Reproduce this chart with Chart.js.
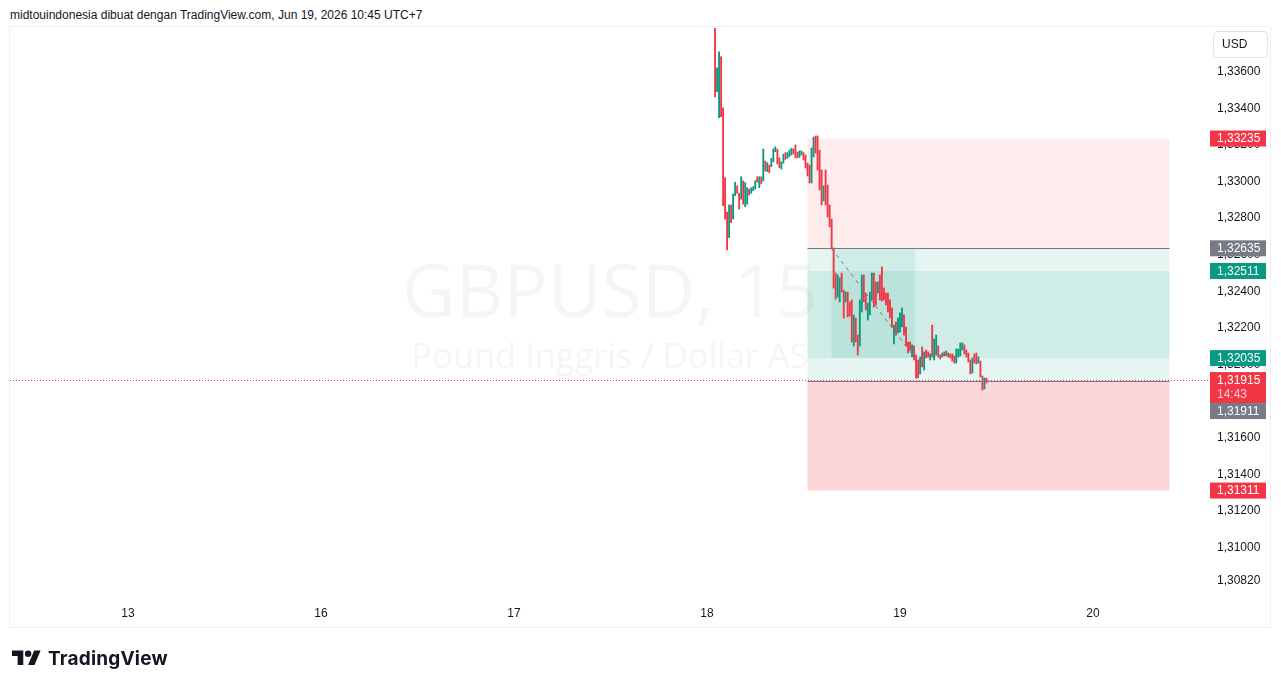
<!DOCTYPE html>
<html>
<head>
<meta charset="utf-8">
<script src="https://cdn.jsdelivr.net/npm/chart.js@4.4.1/dist/chart.umd.min.js"></script>
<style>
    html, body { margin: 0; padding: 0; background: #fff; width: 1281px; height: 688px; overflow: hidden; }
    #head { position: absolute; left: 10px; top: 8px; font: 12px "Liberation Sans", sans-serif; color: #131722; white-space: nowrap; }
    #frame { position: absolute; left: 9px; top: 26px; width: 1262px; height: 602px; border: 1px solid #eef0f3; box-sizing: border-box; }
    canvas { position: absolute; left: 0; top: 0; }
    #logo { position: absolute; left: 12px; top: 646px; display: flex; align-items: center; height: 24px; }
    #logo span { font: 700 19px Inter, sans-serif; color: #131722; margin-left: 7px; letter-spacing: 0.2px; }
</style>
</head>
<body>
<div id="head">midtouindonesia dibuat dengan TradingView.com, Jun 19, 2026 10:45 UTC+7</div>
<div id="frame"></div>
<canvas id="chart" width="1281" height="688"></canvas>
<div id="logo">
    <svg width="29" height="23" viewBox="0 0 36 28"><path d="M14 22H7V11H0V4h14v18zM28 22h-8l7.5-18h8L28 22z" fill="#131722"/><circle cx="20" cy="8" r="4" fill="#131722"/></svg>
    <span>TradingView</span>
</div>
<script>
// x axis: trading days (13, 16, 17, 18, 19, 20), 15 minute bars
const dayLabels = ['13', '16', '17', '18', '19', '20'];
const firstBar = 4; // Jun 18 01:00

const highs = [
    1.33844, 1.33622, 1.33709, 1.33682, 1.33403, 1.33021, 1.32833, 1.32872, 1.32872, 1.32932,
    1.32996, 1.32976, 1.32936, 1.33026, 1.33003, 1.32994, 1.32966, 1.32958, 1.32966, 1.32972,
    1.33005, 1.33026, 1.33026, 1.33026, 1.33178, 1.33112, 1.33103, 1.33090, 1.33127, 1.33178,
    1.33190, 1.33176, 1.33130, 1.33108, 1.33150, 1.33158, 1.33158, 1.33172, 1.33182, 1.33178,
    1.33200, 1.33161, 1.33168, 1.33167, 1.33158, 1.33145, 1.33101, 1.33090, 1.33183, 1.33243,
    1.33249, 1.33249, 1.33172, 1.33063, 1.32976, 1.33063, 1.32981, 1.32872, 1.32795, 1.32637,
    1.32500, 1.32489, 1.32473, 1.32500, 1.32407, 1.32396, 1.32396, 1.32342, 1.32353, 1.32271,
    1.32254, 1.32161, 1.32353, 1.32489, 1.32489, 1.32391, 1.32336, 1.32396, 1.32500, 1.32500,
    1.32451, 1.32451, 1.32489, 1.32533, 1.32418, 1.32391, 1.32391, 1.32353, 1.32309, 1.32216,
    1.32232, 1.32254, 1.32282, 1.32309, 1.32271, 1.32205, 1.32123, 1.32123, 1.32107, 1.32101,
    1.32052, 1.32025, 1.32041, 1.32096, 1.32069, 1.32079, 1.32069, 1.32058, 1.32216, 1.32140,
    1.32161, 1.32101, 1.32052, 1.32063, 1.32069, 1.32074, 1.32063, 1.32058, 1.32058, 1.32047,
    1.32085, 1.32085, 1.32118, 1.32118, 1.32107, 1.32079, 1.32063, 1.32025, 1.32036, 1.32058,
    1.32063, 1.32041, 1.32019, 1.31937, 1.31926, 1.31926
];
const lows = [
    1.33462, 1.33491, 1.33349, 1.33354, 1.32868, 1.32795, 1.32626, 1.32693, 1.32775, 1.32795,
    1.32923, 1.32936, 1.32850, 1.32903, 1.32876, 1.32862, 1.32876, 1.32926, 1.32936, 1.32950,
    1.32959, 1.32996, 1.32966, 1.32987, 1.33003, 1.33058, 1.33054, 1.33048, 1.33081, 1.33108,
    1.33163, 1.33096, 1.33076, 1.33068, 1.33100, 1.33121, 1.33127, 1.33136, 1.33145, 1.33150,
    1.33129, 1.33129, 1.33132, 1.33145, 1.33118, 1.33074, 1.33030, 1.32992, 1.32992, 1.33134,
    1.33156, 1.33063, 1.32954, 1.32872, 1.32894, 1.32872, 1.32806, 1.32752, 1.32631, 1.32418,
    1.32358, 1.32369, 1.32342, 1.32396, 1.32254, 1.32342, 1.32260, 1.32265, 1.32123, 1.32101,
    1.32123, 1.32052, 1.32101, 1.32287, 1.32342, 1.32298, 1.32243, 1.32271, 1.32353, 1.32314,
    1.32325, 1.32391, 1.32353, 1.32347, 1.32353, 1.32325, 1.32287, 1.32254, 1.32205, 1.32112,
    1.32161, 1.32172, 1.32178, 1.32205, 1.32161, 1.32101, 1.32063, 1.32079, 1.32041, 1.32025,
    1.31926, 1.31926, 1.31948, 1.31987, 1.31970, 1.32036, 1.32041, 1.32025, 1.32041, 1.32025,
    1.32052, 1.32041, 1.32030, 1.32041, 1.32047, 1.32047, 1.32041, 1.32036, 1.32019, 1.32008,
    1.32008, 1.32041, 1.32047, 1.32079, 1.32058, 1.32041, 1.32014, 1.31948, 1.31954, 1.32008,
    1.32003, 1.32008, 1.31932, 1.31861, 1.31866, 1.31899
];
// u = up bar, d = down bar
const dirs = ('duuddddudu' + 'udduduuduu' + 'ududududuu' + 'udduuduuud' + 'dduudddduu' +
    'dddduddddd' + 'duuddudddu' + 'dduudduuud' + 'dudddddddu' + 'duuuddddud' +
    'ddududdudu' + 'uddududddd' + 'uuuuddddud' + 'duddud').split('');

const priceTicks = [1.336, 1.334, 1.332, 1.330, 1.328, 1.326, 1.324, 1.322, 1.320, 1.318, 1.316, 1.314, 1.312, 1.310, 1.3082];

// position tools: stop, entry, target
const shortPos = [1.33235, 1.32635, 1.32035];
const longPos = [1.31311, 1.31911, 1.32511];
const posBars = [50, 230];
const hitBars = [62, 103.5];
const lastPrice = 1.31915;
const countdown = '14:43';

const UP = '#089981';
const DOWN = '#F23645';
const GREY = '#787B86';
const TEXT = '#131722';

const barX = k => 3 + k / 96;
const fmt = v => v.toFixed(5).replace('.', ',');

const candles = highs.map((h, i) => ({ x: barX(firstBar + i), y: [lows[i], h] }));
const colors = dirs.map(d => d === 'u' ? UP : DOWN);

function fitFont(ctx, text, family, width) {
    ctx.font = '100px ' + family;
    return 100 * width / ctx.measureText(text).width;
}

const overlay = {
    id: 'overlay',
    beforeDatasetsDraw(chart) {
        const { ctx, chartArea: a, scales: { x, y } } = chart;
        ctx.save();
        ctx.beginPath();
        ctx.rect(a.left, a.top, a.right - a.left, a.bottom - a.top);
        ctx.clip();

        // watermark
        const cx = (a.left + a.right) / 2;
        ctx.fillStyle = 'rgba(19,23,34,0.045)';
        ctx.textAlign = 'center';
        ctx.textBaseline = 'alphabetic';
        let fs = fitFont(ctx, 'GBPUSD, 15', '"Open Sans"', 416);
        ctx.font = fs + 'px "Open Sans"';
        ctx.fillText('GBPUSD, 15', cx, 317);
        fs = fitFont(ctx, 'Pound Inggris / Dollar AS', '"Open Sans"', 397);
        ctx.font = fs + 'px "Open Sans"';
        ctx.fillText('Pound Inggris / Dollar AS', cx, 368);

        // position boxes
        const l = x.getPixelForValue(barX(posBars[0]));
        const r = x.getPixelForValue(barX(posBars[1]));
        const band = (p0, p1, c, x0, x1) => {
            const t = y.getPixelForValue(Math.max(p0, p1));
            const b = y.getPixelForValue(Math.min(p0, p1));
            ctx.fillStyle = c;
            ctx.fillRect(x0 === undefined ? l : x0, t, (x1 === undefined ? r : x1) - (x0 === undefined ? l : x0), b - t);
        };
        band(shortPos[0], shortPos[1], 'rgba(242,54,69,0.1)');
        band(shortPos[1], shortPos[2], 'rgba(8,153,129,0.1)');
        band(longPos[1], longPos[2], 'rgba(8,153,129,0.1)');
        band(longPos[0], longPos[1], 'rgba(242,54,69,0.2)');
        band(shortPos[1], shortPos[2], 'rgba(8,153,129,0.1)',
            x.getPixelForValue(barX(hitBars[0])), x.getPixelForValue(barX(hitBars[1])));
        ctx.restore();
    },
    afterDatasetsDraw(chart) {
        const { ctx, chartArea: a, scales: { x, y } } = chart;
        ctx.save();
        const l = x.getPixelForValue(barX(posBars[0]));
        const r = x.getPixelForValue(barX(posBars[1]));
        ctx.lineWidth = 1;
        ctx.strokeStyle = GREY;
        [shortPos[1], longPos[1]].forEach(p => {
            const py = Math.round(y.getPixelForValue(p)) + 0.5;
            ctx.beginPath(); ctx.moveTo(l, py); ctx.lineTo(r, py); ctx.stroke();
        });
        // trade path
        ctx.setLineDash([4, 4]);
        ctx.strokeStyle = GREY;
        ctx.beginPath();
        ctx.moveTo(x.getPixelForValue(barX(hitBars[0])), y.getPixelForValue(shortPos[1]));
        ctx.lineTo(x.getPixelForValue(barX(hitBars[1])), y.getPixelForValue(shortPos[2]));
        ctx.stroke();
        // last price line
        ctx.setLineDash([1, 2]);
        ctx.strokeStyle = DOWN;
        const py = Math.round(y.getPixelForValue(lastPrice)) + 0.5;
        ctx.beginPath(); ctx.moveTo(a.left, py); ctx.lineTo(a.right, py); ctx.stroke();
        ctx.restore();
    },
    afterDraw(chart) {
        const { ctx, chartArea: a, scales: { y } } = chart;
        ctx.save();
        const L = a.right, W = 56;
        ctx.font = '12px "Liberation Sans"';
        ctx.textBaseline = 'middle';
        ctx.textAlign = 'left';
        const tag = (p, bg) => {
            const py = y.getPixelForValue(p);
            ctx.fillStyle = bg;
            ctx.fillRect(L, py - 8, W, 16);
            ctx.fillStyle = '#fff';
            ctx.fillText(fmt(p), L + 7, py + 0.5);
        };
        tag(shortPos[0], DOWN);
        tag(shortPos[1], GREY);
        tag(longPos[2], UP);
        tag(shortPos[2], UP);
        tag(longPos[0], DOWN);
        // last price with countdown, entry pushed below it
        const py = y.getPixelForValue(lastPrice);
        ctx.fillStyle = DOWN;
        ctx.fillRect(L, py - 8, W, 31);
        ctx.fillStyle = '#fff';
        ctx.fillText(fmt(lastPrice), L + 7, py + 0.5);
        ctx.fillStyle = 'rgba(255,255,255,0.75)';
        ctx.fillText(countdown, L + 7, py + 14.5);
        ctx.fillStyle = GREY;
        ctx.fillRect(L, py + 23, W, 16);
        ctx.fillStyle = '#fff';
        ctx.fillText(fmt(longPos[1]), L + 7, py + 31.5);

        // currency box
        ctx.strokeStyle = '#e0e3eb';
        ctx.lineWidth = 1;
        ctx.beginPath();
        ctx.roundRect(1213.5, 31.5, 54, 26, 4);
        ctx.stroke();
        ctx.fillStyle = TEXT;
        ctx.fillText('USD', 1222, 44.5);
        ctx.restore();
    }
};

Chart.defaults.font.family = '"Liberation Sans", sans-serif';
Chart.defaults.font.size = 12;
Chart.defaults.color = TEXT;

new Chart(document.getElementById('chart').getContext('2d'), {
    type: 'bar',
    data: {
        datasets: [{
            data: candles,
            backgroundColor: colors,
            barThickness: 1.2,
            borderWidth: 0
        }]
    },
    options: {
        responsive: false,
        animation: false,
        events: [],
        layout: { padding: { left: 10, top: 28, right: 11, bottom: 61 } },
        plugins: { legend: { display: false }, tooltip: { enabled: false } },
        scales: {
            x: {
                type: 'linear',
                offset: false,
                min: -0.6114,
                max: 5.6062,
                grid: { display: false, drawTicks: false },
                border: { display: false },
                afterBuildTicks: s => { s.ticks = dayLabels.map((_, i) => ({ value: i })); },
                afterFit: s => { s.height = 29; },
                ticks: { padding: 8, maxRotation: 0, autoSkip: false, callback: v => dayLabels[v] }
            },
            y: {
                position: 'right',
                min: 1.30724,
                max: 1.33839,
                grid: { display: false, drawTicks: false },
                border: { display: false },
                afterBuildTicks: s => { s.ticks = priceTicks.map(v => ({ value: v })); },
                afterFit: s => { s.width = 60; },
                ticks: { padding: 7, autoSkip: false, callback: v => fmt(v) }
            }
        }
    },
    plugins: [overlay]
});
</script>
</body>
</html>
